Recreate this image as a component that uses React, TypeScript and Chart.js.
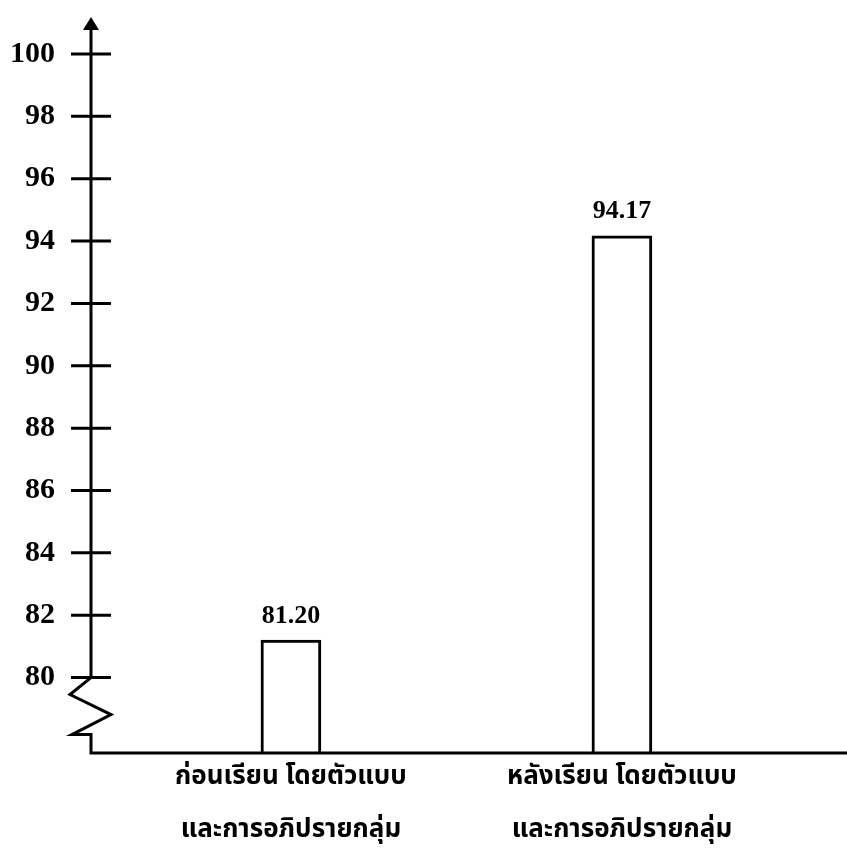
import React, { useEffect, useRef } from 'react';
import { Chart, registerables } from 'chart.js';

Chart.register(...registerables);

// ---- data ----
const categories: string[][] = [
  ['ก่อนเรียน โดยตัวแบบ', 'และการอภิปรายกลุ่ม'],
  ['หลังเรียน โดยตัวแบบ', 'และการอภิปรายกลุ่ม'],
];
const categoryPositions = [1, 2];
const scores = [81.2, 94.17];
const scoreLabels = ['81.20', '94.17'];
const yTickValues = [80, 82, 84, 86, 88, 90, 92, 94, 96, 98, 100];

const thaiFont = '"Noto Sans Thai", "Noto Sans Thai UI", "Loma", "Garuda", "Noto Sans", "DejaVu Sans", sans-serif';
const serifFont = '"Liberation Serif", "DejaVu Serif", serif';

const handAxes = {
  id: 'handAxes',
  afterDraw(chart: any) {
    const { ctx, chartArea, scales } = chart;
    const y = scales.y;
    const ax = chartArea.left;
    const bottom = chartArea.bottom;
    const y80 = y.getPixelForValue(80);
    ctx.save();
    ctx.strokeStyle = '#000';
    ctx.fillStyle = '#000';
    ctx.lineWidth = 3;
    ctx.lineJoin = 'miter';
    ctx.beginPath();
    ctx.moveTo(ax, chartArea.top - 26);
    ctx.lineTo(ax, y80);
    ctx.lineTo(ax - 21, y80 + 17);
    ctx.lineTo(ax + 20, y80 + 37);
    ctx.lineTo(ax - 19, y80 + 57);
    ctx.lineTo(ax, y80 + 57);
    ctx.lineTo(ax, bottom);
    ctx.lineTo(chartArea.right, bottom);
    ctx.stroke();
    // arrow head
    ctx.beginPath();
    ctx.moveTo(ax, chartArea.top - 37);
    ctx.lineTo(ax - 8, chartArea.top - 24);
    ctx.lineTo(ax + 8, chartArea.top - 24);
    ctx.closePath();
    ctx.fill();
    // crossing ticks
    y.ticks.forEach((t: any) => {
      const py = y.getPixelForValue(t.value);
      ctx.beginPath();
      ctx.moveTo(ax - 20, py);
      ctx.lineTo(ax + 20, py);
      ctx.stroke();
    });
    ctx.restore();
  },
};

const valueLabels = {
  id: 'valueLabels',
  afterDatasetsDraw(chart: any) {
    const { ctx } = chart;
    const meta = chart.getDatasetMeta(0);
    ctx.save();
    ctx.fillStyle = '#000';
    ctx.font = `bold 26px ${serifFont}`;
    ctx.textAlign = 'center';
    ctx.textBaseline = 'bottom';
    meta.data.forEach((el: any, i: number) => {
      ctx.fillText(scoreLabels[i], el.x, el.y - 11);
    });
    ctx.restore();
  },
};

export default function App() {
  const ref = useRef<HTMLCanvasElement>(null);
  useEffect(() => {
    const chart = new Chart(ref.current as HTMLCanvasElement, {
      type: 'bar',
      data: {
        datasets: [
          {
            data: scores.map((v, i) => ({ x: categoryPositions[i], y: v })),
            backgroundColor: '#ffffff',
            borderColor: '#000000',
            borderWidth: 3,
            barThickness: 60,
          },
        ],
      },
      options: {
        animation: false,
        responsive: true,
        maintainAspectRatio: false,
        layout: { padding: { top: 49, left: 0, right: 0, bottom: 0 } },
        plugins: { legend: { display: false }, tooltip: { enabled: false } },
        scales: {
          x: {
            type: 'linear',
            min: 0.396,
            max: 2.68,
            offset: false,
            grid: { display: false, drawTicks: false, offset: false },
            border: { display: false },
            afterBuildTicks: (scale: any) => {
              scale.ticks = categoryPositions.map((v) => ({ value: v }));
            },
            afterFit: (scale: any) => {
              scale.height = 98;
            },
            ticks: {
              autoSkip: false,
              maxRotation: 0,
              minRotation: 0,
              padding: -1,
              color: '#000',
              font: { family: thaiFont, size: 26, weight: 'bold', lineHeight: 2.04 },
              callback: (value: any) => {
                const idx = categoryPositions.indexOf(Number(value));
                return idx >= 0 ? categories[idx] : '';
              },
            },
          },
          y: {
            min: 77.58,
            max: 100,
            grid: { display: false, drawTicks: false },
            border: { display: false },
            afterBuildTicks: (scale: any) => {
              scale.ticks = yTickValues.map((v) => ({ value: v }));
            },
            afterFit: (scale: any) => {
              scale.width = 91;
            },
            ticks: {
              padding: 36,
              color: '#000',
              font: { family: serifFont, size: 30, weight: 'bold' },
            },
          },
        },
      },
      plugins: [handAxes, valueLabels],
    } as any);
    return () => chart.destroy();
  }, []);
  return (
    <div style={{ position: 'fixed', left: 0, top: 0, width: 847, height: 851, background: '#fff' }}>
      <canvas ref={ref} />
    </div>
  );
}
